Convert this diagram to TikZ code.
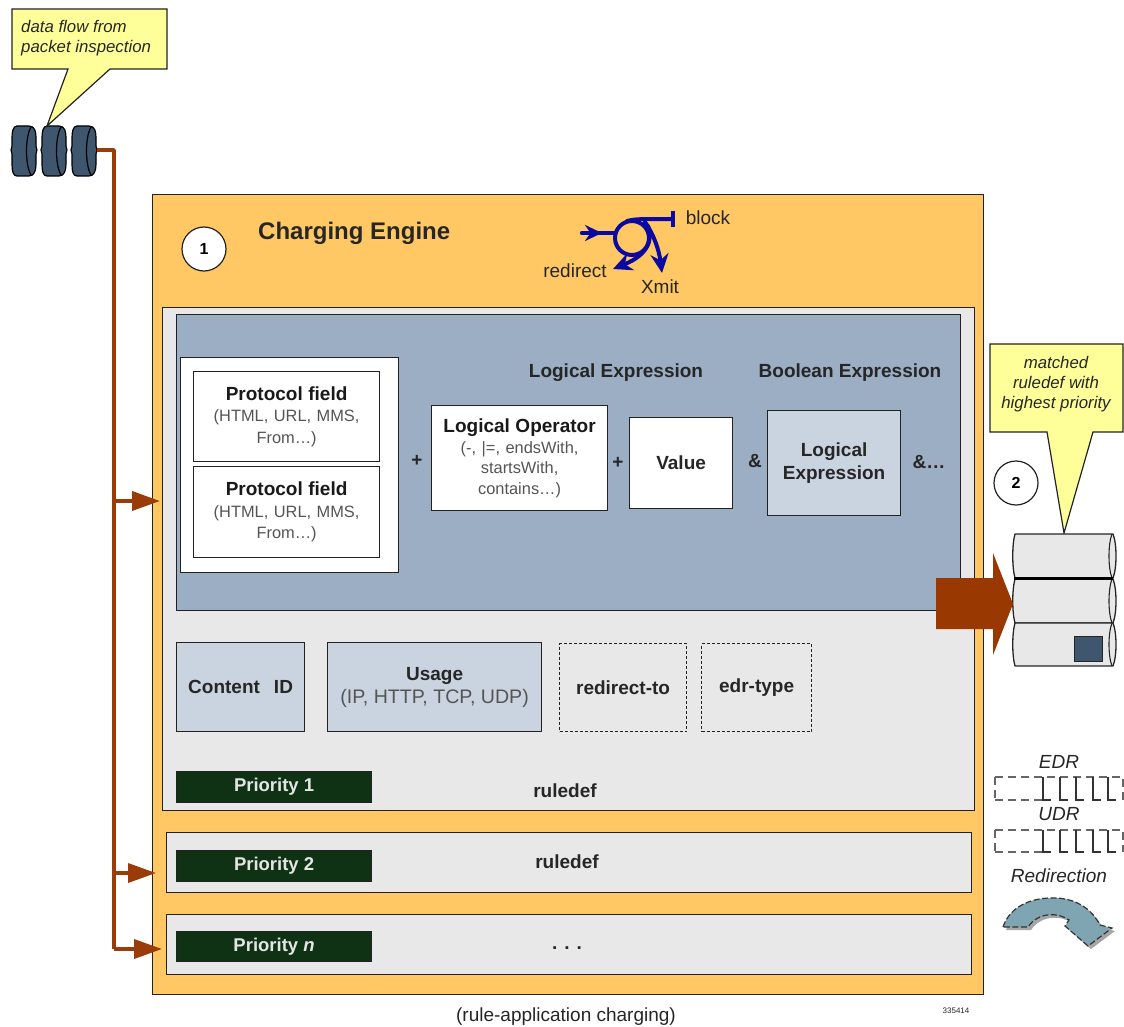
\documentclass[tikz,border=0pt]{standalone}
\usepackage{fontspec}
\setmainfont{Liberation Sans}
\usetikzlibrary{arrows.meta,shapes.geometric}
\definecolor{orangebg}{HTML}{FFC864}
\definecolor{panelgray}{HTML}{E8E8E8}
\definecolor{blueslate}{HTML}{9BAEC4}
\definecolor{lightslate}{HTML}{C9D4E0}
\definecolor{darkgreen}{HTML}{0F3214}
\definecolor{brownline}{HTML}{9A3B0A}
\definecolor{brownfill}{HTML}{993800}
\definecolor{noteyellow}{HTML}{FFFF99}
\definecolor{tyre}{HTML}{3F566F}
\definecolor{royal}{HTML}{0A0AA0}
\definecolor{edge}{HTML}{222222}
\definecolor{teal}{HTML}{7FA5B2}
\definecolor{softtext}{HTML}{555555}
\tikzset{
  box/.style={draw=edge,line width=1.2pt,anchor=north west,inner sep=0,align=center},
  whitebox/.style={box,fill=white},
  slatebox/.style={box,fill=lightslate},
  dashbox/.style={box,fill=panelgray,densely dashed},
  panel/.style={box,fill=panelgray},
  prio/.style={box,fill=darkgreen,text=black!10,font=\fontsize{18.5}{20}\selectfont\bfseries},
  lab/.style={inner sep=0,align=center,text=black!85},
  boldlab/.style={lab,font=\fontsize{19}{22}\selectfont\bfseries},
  note/.style={lab,font=\fontsize{16.8}{20}\selectfont\itshape},
  biglab/.style={lab,font=\fontsize{19}{21}\selectfont},
  bigit/.style={lab,font=\fontsize{19}{21}\selectfont\itshape},
  num/.style={circle,draw=edge,fill=white,line width=1.2pt,minimum size=44pt,inner sep=0,font=\fontsize{16}{18}\selectfont\bfseries},
  feed/.style={draw=brownline,line width=3.6pt,line join=round},
  feedarrow/.style={feed,-{Triangle[length=28pt,width=19pt,fill=brownline]}},
  flow/.style={draw=royal,line width=4pt,line cap=round},
  flowtip/.style={flow,-{Stealth[length=19pt,width=18pt,fill=royal]}},
  callout/.style={draw=edge,fill=noteyellow,line width=1.2pt,line join=miter},
  ruleline/.style={draw=black!80,line width=1.3pt},
  ghost/.style={draw=black!60,line width=1.3pt,dash pattern=on 8pt off 5pt},
}
\newcommand{\tyreshape}[1]{%
  \begin{scope}[xshift=#1pt]
    \path[draw=black,line width=1.2pt,fill=tyre]
      (-7,126) -- (5,126) .. controls (11,126) and (12,132) .. (12,138) -- (12,146) -- (13,150) -- (12,154) -- (12,164)
      .. controls (12,171) and (10,176) .. (5,176) -- (-7,176)
      .. controls (-11,176) and (-12,171) .. (-12,164) -- (-12,154) -- (-13,150) -- (-12,146) -- (-12,138)
      .. controls (-12,132) and (-11,126) .. (-7,126) -- cycle;
    \draw[line width=1.2pt,black] (7,127) .. controls (1,137) and (1,165) .. (7,175);
  \end{scope}}
\newcommand{\drum}[2]{%
  \path[draw=black!85,line width=1.3pt,fill=panelgray,line join=round]
    (1015,#1) -- (1113,#1) .. controls (1117,#1+10) and (1117,#2-10) .. (1113,#2) -- (1015,#2)
    .. controls (1012,#2-10) and (1012,#1+10) .. (1015,#1) -- cycle;
  \draw[black!85,line width=1.1pt] (1112,#1) .. controls (1108,#1+10) and (1108,#2-10) .. (1112,#2);}
\begin{document}
\begin{tikzpicture}[x=1pt,y=-1pt]
\useasboundingbox (0,0) rectangle (1124,1027);

% main containers
\node[box,fill=orangebg,minimum width=831pt,minimum height=800pt] (engine) at (152,194) {};
\node[panel,minimum width=812pt,minimum height=503pt] (rule1) at (162,307) {};
\node[box,fill=blueslate,minimum width=784pt,minimum height=296pt] (expr) at (176,314) {};
\node[panel,minimum width=805pt,minimum height=60pt] (rule2) at (166,832) {};
\node[panel,minimum width=805pt,minimum height=60pt] (rule3) at (166,914) {};

\node[num] (one) at (204,249) {1};
\node[num] (two) at (1016,483) {2};
\node[lab,font=\fontsize{24}{26}\selectfont\bfseries,anchor=west] (title) at (258,233) {Charging Engine};

% protocol fields
\node[whitebox,minimum width=218pt,minimum height=215pt] (pfgroup) at (180,357) {};
\node[whitebox,minimum width=186pt,minimum height=90pt,text width=186pt,font=\fontsize{16.4}{21.5}\selectfont] (pf1) at (193,371)
  {{\fontsize{19}{21.5}\selectfont\bfseries\color{black!90} Protocol field}\\{\color{softtext}(HTML, URL, MMS,}\\{\color{softtext}From…)}};
\node[whitebox,minimum width=186pt,minimum height=91pt,text width=186pt,font=\fontsize{16.4}{21.5}\selectfont] (pf2) at (193,466)
  {{\fontsize{19}{21.5}\selectfont\bfseries\color{black!90} Protocol field}\\{\color{softtext}(HTML, URL, MMS,}\\{\color{softtext}From…)}};
\node[whitebox,minimum width=176pt,minimum height=105pt,text width=176pt,font=\fontsize{16.4}{20.5}\selectfont] (op) at (431,405)
  {{\fontsize{19}{20.5}\selectfont\bfseries\color{black!90} Logical Operator}\\{\color{softtext}(-, |=, endsWith,}\\{\color{softtext}startsWith,}\\{\color{softtext}contains…)}};
\node[whitebox,minimum width=103pt,minimum height=91pt,font=\fontsize{19}{22}\selectfont\bfseries,text=black!85] (val) at (629,417) {Value};
\node[slatebox,minimum width=133pt,minimum height=105pt,font=\fontsize{19}{23}\selectfont\bfseries,text=black!85] (lexpr) at (767,410) {Logical\\Expression};

\node[boldlab] (lelab) at (616,373) {Logical Expression};
\node[boldlab] (belab) at (850,373) {Boolean Expression};
\node[boldlab] (p1) at (417,461) {+};
\node[boldlab] (p2) at (618,463) {+};
\node[boldlab] (amp1) at (755,461) {\&};
\node[boldlab] (amp2) at (929,462) {\&…};

% second row
\node[slatebox,minimum width=128pt,minimum height=89pt,font=\fontsize{19}{22}\selectfont\bfseries,text=black!85] (cid) at (176,642) {Content\hspace{14pt}ID};
\node[slatebox,minimum width=214pt,minimum height=89pt,font=\fontsize{19.6}{23}\selectfont] (usage) at (327,642)
  {{\fontsize{19}{23}\selectfont\bfseries\color{black!85} Usage}\\{\color{softtext}(IP, HTTP, TCP, UDP)}};
\node[dashbox,minimum width=127pt,minimum height=88pt,font=\fontsize{19}{22}\selectfont\bfseries,text=black!85] (redir) at (559,643) {redirect-to};
\node[dashbox,minimum width=110pt,minimum height=88pt,font=\fontsize{19}{22}\selectfont\bfseries,text=black!85] (edr) at (701,643) {edr-type};

% priorities
\node[prio,minimum width=195pt,minimum height=31pt] (pr1) at (176,771) {Priority 1};
\node[prio,minimum width=195pt,minimum height=31pt] (pr2) at (176,850) {Priority 2};
\node[prio,minimum width=195pt,minimum height=30pt] (prn) at (176,931) {Priority \textit{n}};
\node[boldlab] (rd1) at (565,791) {ruledef};
\node[boldlab] (rd2) at (567,862) {ruledef};
\node[boldlab] (dots) at (567,948) {. . .};

% flow symbol
\node[biglab] (block) at (708,218) {block};
\node[biglab] (redlab) at (575,271) {redirect};
\node[biglab] (xmit) at (660,287) {Xmit};
\coordinate (fin) at (582,233);
\coordinate (fa) at (602,233);
\coordinate (fb) at (673,219);
\coordinate (ftop) at (627,221);
\coordinate (fxm) at (662,273);
\coordinate (frd) at (613,269);
\draw[flow] (fin) -- (614,233);
\draw[flow,-{Stealth[length=17pt,width=16pt,fill=royal]}] (fin) -- (fa);
\draw[flow] (632,238) circle[radius=17pt];
\draw[flow] (ftop) .. controls (636,219) .. (fb);
\draw[draw=royal,line width=4.5pt] (673,211) -- (673,227);
\draw[flowtip] (645,222) .. controls (654,235) and (659,250) .. (fxm);
\draw[flowtip] (648,226) .. controls (655,246) and (640,258) .. (frd);

% packets
\foreach \px in {24,54,84} {\tyreshape{\px}}
\coordinate (pktout) at (97,150);

% callouts
\path[callout] (12,9) -- (167,9) -- (167,69) -- (110,69) -- (47,126) -- (68,69) -- (12,69) -- cycle;
\node[note,anchor=north west,align=left] (n1) at (21,20) {data flow from\\packet inspection};
\path[callout] (990,344) -- (1123,344) -- (1123,432) -- (1093,432) -- (1064,533) -- (1047,432) -- (990,432) -- cycle;
\node[note] (n2) at (1056,384) {matched\\ruledef with\\highest priority};

% feed lines
\coordinate (corner) at (114,150);
\coordinate (j1) at (114,501);
\coordinate (j2) at (114,873);
\coordinate (j3) at (114,949);
\coordinate (t1) at (160,501);
\coordinate (t2) at (156,873);
\coordinate (t3) at (162,949);
\draw[feed] (pktout) -- (corner) -- (j3);
\draw[feedarrow] (j1) -- (t1);
\draw[feedarrow] (j2) -- (t2);
\draw[feedarrow] (j3) -- (t3);

% drums
\drum{534}{578}
\drum{579}{623}
\drum{623}{666}
\draw[black,line width=2.2pt] (1014,578.5) -- (1113,578.5);
\node[draw=black!85,fill=tyre,line width=1.2pt,minimum width=28pt,minimum height=25pt,inner sep=0,anchor=north west] (chip) at (1073.5,636) {};

% big output arrow
\path[fill=brownfill] (936,578) -- (993,578) -- (993,553) -- (1013,604) -- (993,655) -- (993,629) -- (936,629) -- cycle;

% EDR / UDR
\node[bigit] (edrl) at (1059,762) {EDR};
\node[bigit] (udrl) at (1059,814) {UDR};
\node[bigit] (rdl) at (1059,876) {Redirection};
\draw[ghost] (995,777) -- (1123,777) -- (1123,800);
\draw[ghost] (995,800) -- (1044,800);
\draw[ghost] (995,777) -- (995,800);
\foreach \ex in {1043,1060,1076,1093,1108} {
  \draw[ruleline] (\ex,777) -- (\ex,800) -- (\ex+8,800);
}
\draw[ghost] (995,830) -- (1123,830) -- (1123,852);
\draw[ghost] (995,852) -- (1044,852);
\draw[ghost] (995,830) -- (995,852);
\foreach \ex in {1043,1060,1076,1093,1108} {
  \draw[ruleline] (\ex,830) -- (\ex,852) -- (\ex+8,852);
}

% redirection arrow
\path[fill=black!35,shift={(3,3)}]
  (1003,927) .. controls (1010,906) and (1032,897) .. (1056,898)
  .. controls (1078,899) and (1092,910) .. (1100,925) -- (1112,928) -- (1088,946) -- (1065,926) -- (1069,920)
  .. controls (1058,912) and (1038,912) .. (1028,927) -- cycle;
\path[draw=black!80,fill=teal,line width=1.2pt,dash pattern=on 6pt off 2.5pt]
  (1003,927) .. controls (1010,906) and (1032,897) .. (1056,898)
  .. controls (1078,899) and (1092,910) .. (1100,925) -- (1112,928) -- (1088,946) -- (1065,926) -- (1069,920)
  .. controls (1058,912) and (1038,912) .. (1028,927) -- cycle;

\node[biglab] (cap) at (566,1017) {(rule-application charging)};
\node[lab,font=\fontsize{8}{10}\selectfont] (code) at (956,1011) {335414};
\end{tikzpicture}
\end{document}
